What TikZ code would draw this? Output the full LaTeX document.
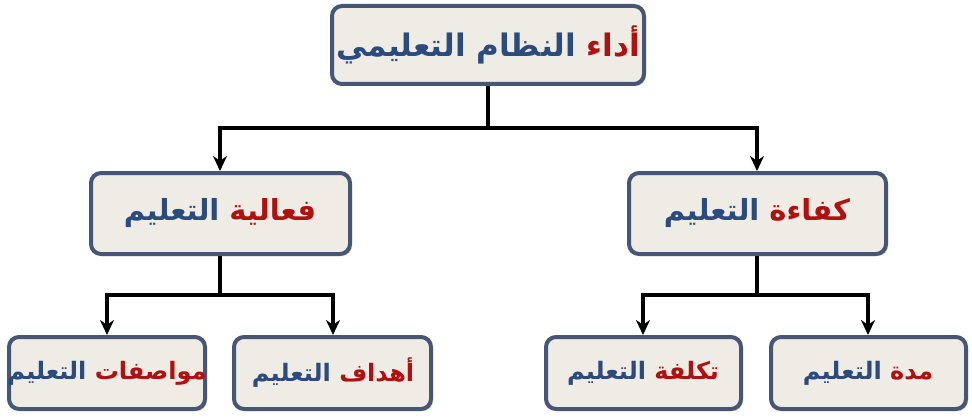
\documentclass[tikz,border=0pt]{standalone}
\usepackage{fontspec}
\usetikzlibrary{shadows,arrows.meta}
\TeXXeTstate=1
\newfontfamily\arabicfont[Script=Arabic]{DejaVu Sans}
\definecolor{boxfill}{HTML}{EEECE4}
\definecolor{boxline}{HTML}{465674}
\definecolor{tblue}{HTML}{2B4A7E}
\definecolor{tred}{HTML}{B01010}
\tikzset{
  box/.style={draw=boxline, line width=4pt, fill=boxfill, rounded corners=10pt,
    drop shadow={shadow xshift=2pt,shadow yshift=-2pt,opacity=0.35}},
  conn/.style={line width=3.4pt, black},
  arr/.style={conn, -{Stealth[length=15pt,width=14pt]}}
}
\newcommand{\artxt}[3]{{\arabicfont\bfseries\fontsize{#1}{#1}\selectfont\textcolor{tblue}{\hbox{\beginR #3\endR}}\hbox{ }\textcolor{tred}{\hbox{\beginR #2\endR}}}}
\begin{document}
\begin{tikzpicture}[x=1pt,y=-1pt]
\useasboundingbox (0,0) rectangle (972,420);
\draw[box] (332,6) rectangle (644,84);
\node (top) at (488,45) {\artxt{31}{أداء}{النظام التعليمي}};
\draw[box] (91,173) rectangle (350,254);
\node (ml) at (220,213) {\artxt{29}{فعالية}{التعليم}};
\draw[box] (629,173) rectangle (886,254);
\node (mr) at (757,213) {\artxt{29}{كفاءة}{التعليم}};
\draw[box] (9,337) rectangle (205,409);
\node at (107,373) {\artxt{24}{مواصفات}{التعليم}};
\draw[box] (234,337) rectangle (431,409);
\node at (333,373) {\artxt{24}{أهداف}{التعليم}};
\draw[box] (546,337) rectangle (741,409);
\node at (643,373) {\artxt{24}{تكلفة}{التعليم}};
\draw[box] (771,337) rectangle (966,409);
\node at (868,373) {\artxt{24}{مدة}{التعليم}};
\coordinate (t0) at (488,86);
\coordinate (t1) at (488,128);
\draw[conn] (t0) -- (t1);
\draw[arr] (488,128) -| (220,171);
\draw[arr] (488,128) -| (757,171);
\draw[conn] (220,256) -- (220,295);
\draw[arr] (220,295) -| (107,335);
\draw[arr] (220,295) -| (333,335);
\draw[conn] (757,256) -- (757,295);
\draw[arr] (757,295) -| (643,335);
\draw[arr] (757,295) -| (868,335);
\end{tikzpicture}
\end{document}
